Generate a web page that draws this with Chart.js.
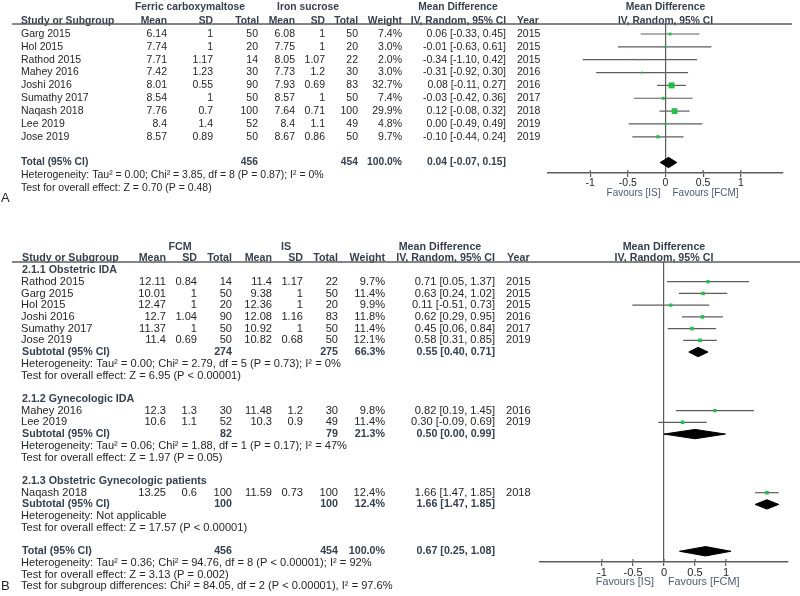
<!DOCTYPE html>
<html>
<head>
<meta charset="utf-8">
<script src="https://cdn.jsdelivr.net/npm/chart.js@4.4.1/dist/chart.umd.min.js"></script>
<style>
  body { margin: 0; background: #fff; }
  #wrap { position: relative; width: 800px; height: 596px; }
  canvas { position: absolute; left: 0; }
</style>
</head>
<body>
<div id="wrap">
  <canvas id="chartA" width="800" height="205" style="top:0"></canvas>
  <canvas id="chartB" width="800" height="391" style="top:205px"></canvas>
</div>
<script>
// ====================
// PANEL A DATA
// ====================
const aStudy   = ["Garg 2015", "Hol 2015", "Rathod 2015", "Mahey 2016", "Joshi 2016", "Sumathy 2017", "Naqash 2018", "Lee 2019", "Jose 2019"];
const aFcmMean = [6.14, 7.74, 7.71, 7.42, 8.01, 8.54, 7.76, 8.4, 8.57];
const aFcmSD   = [1, 1, 1.17, 1.23, 0.55, 1, 0.7, 1.4, 0.89];
const aFcmN    = [50, 20, 14, 30, 90, 50, 100, 52, 50];
const aIsMean  = [6.08, 7.75, 8.05, 7.73, 7.93, 8.57, 7.64, 8.4, 8.67];
const aIsSD    = [1, 1, 1.07, 1.2, 0.69, 1, 0.71, 1.1, 0.86];
const aIsN     = [50, 20, 22, 30, 83, 50, 100, 49, 50];
const aWeight  = [7.4, 3.0, 2.0, 3.0, 32.7, 7.4, 29.9, 4.8, 9.7];
const aMD      = [0.06, -0.01, -0.34, -0.31, 0.08, -0.03, 0.12, 0.00, -0.10];
const aLo      = [-0.33, -0.63, -1.10, -0.92, -0.11, -0.42, -0.08, -0.49, -0.44];
const aHi      = [0.45, 0.61, 0.42, 0.30, 0.27, 0.36, 0.32, 0.49, 0.24];
const aYear    = [2015, 2015, 2015, 2016, 2016, 2017, 2018, 2019, 2019];
const aTotalN  = [456, 454];
const aTotalCI = [0.04, -0.07, 0.15];
const aNotes   = ["Heterogeneity: Tau² = 0.00; Chi² = 3.85, df = 8 (P = 0.87); I² = 0%",
                  "Test for overall effect: Z = 0.70 (P = 0.48)"];

// ====================
// PANEL B DATA
// ====================
const bStudy   = ["Rathod 2015", "Garg 2015", "Hol 2015", "Joshi 2016", "Sumathy 2017", "Jose 2019", "Mahey 2016", "Lee 2019", "Naqash 2018"];
const bRow     = [1, 2, 3, 4, 5, 6, 12, 13, 19];
const bFcmMean = [12.11, 10.01, 12.47, 12.7, 11.37, 11.4, 12.3, 10.6, 13.25];
const bFcmSD   = [0.84, 1, 1, 1.04, 1, 0.69, 1.3, 1.1, 0.6];
const bFcmN    = [14, 50, 20, 90, 50, 50, 30, 52, 100];
const bIsMean  = [11.4, 9.38, 12.36, 12.08, 10.92, 10.82, 11.48, 10.3, 11.59];
const bIsSD    = [1.17, 1, 1, 1.16, 1, 0.68, 1.2, 0.9, 0.73];
const bIsN     = [22, 50, 20, 83, 50, 50, 30, 49, 100];
const bWeight  = [9.7, 11.4, 9.9, 11.8, 11.4, 12.1, 9.8, 11.4, 12.4];
const bMD      = [0.71, 0.63, 0.11, 0.62, 0.45, 0.58, 0.82, 0.30, 1.66];
const bLo      = [0.05, 0.24, -0.51, 0.29, 0.06, 0.31, 0.19, -0.09, 1.47];
const bHi      = [1.37, 1.02, 0.73, 0.95, 0.84, 0.85, 1.45, 0.69, 1.85];
const bYear    = [2015, 2015, 2015, 2016, 2017, 2019, 2016, 2019, 2018];

const bGroup      = ["2.1.1 Obstetric IDA", "2.1.2 Gynecologic IDA", "2.1.3 Obstetric Gynecologic patients"];
const bGroupRow   = [0, 11, 18];
const bSubRow     = [7, 14, 20];
const bSubFcmN    = [274, 82, 100];
const bSubIsN     = [275, 79, 100];
const bSubWeight  = [66.3, 21.3, 12.4];
const bSubMD      = [0.55, 0.50, 1.66];
const bSubLo      = [0.40, 0.00, 1.47];
const bSubHi      = [0.71, 0.99, 1.85];
const bSubHetero  = ["Heterogeneity: Tau² = 0.00; Chi² = 2.79, df = 5 (P = 0.73); I² = 0%",
                     "Heterogeneity: Tau² = 0.06; Chi² = 1.88, df = 1 (P = 0.17); I² = 47%",
                     "Heterogeneity: Not applicable"];
const bSubEffect  = ["Test for overall effect: Z = 6.95 (P < 0.00001)",
                     "Test for overall effect: Z = 1.97 (P = 0.05)",
                     "Test for overall effect: Z = 17.57 (P < 0.00001)"];
const bTotalRow = 24;
const bTotalN   = [456, 454];
const bTotalCI  = [0.67, 0.25, 1.08];
const bNotes    = ["Heterogeneity: Tau² = 0.36; Chi² = 94.76, df = 8 (P < 0.00001); I² = 92%",
                   "Test for overall effect: Z = 3.13 (P = 0.002)",
                   "Test for subgroup differences: Chi² = 84.05, df = 2 (P < 0.00001), I² = 97.6%"];

// axis ticks (both panels)
const tickValues = [-1, -0.5, 0, 0.5, 1];
const tickLabels = ["-1", "-0.5", "0", "0.5", "1"];

// ====================
// STYLE
// ====================
const FONT = '"Liberation Sans", Arial, sans-serif';
const TXT = "#262626";
const BOLD_TXT = "#353f4e";
const BLUE_TXT = "#4f5b72";
const LINE = "#5c5c5c";
const SQUARE = "#22bf48";
const DIAMOND_H = 0.4;

const fmtCI = (m, lo, hi) => `${m.toFixed(2)} [${lo.toFixed(2)}, ${hi.toFixed(2)}]`;
const pct = w => w.toFixed(1) + "%";

function ciDatasets(rows, lo, hi) {
  return rows.map((r, i) => ({
    type: "line",
    data: [{ x: lo[i], y: r }, { x: hi[i], y: r }],
    borderColor: LINE, borderWidth: 1.2, pointRadius: 0, fill: false, order: 2
  }));
}

function squareDataset(rows, md, weight) {
  return {
    type: "line", showLine: false,
    data: rows.map((r, i) => ({ x: md[i], y: r })),
    pointStyle: "rect",
    pointRadius: weight.map(w => 0.74 * Math.sqrt(w)),
    backgroundColor: SQUARE, borderColor: SQUARE, borderWidth: 0, order: 0
  };
}

function diamondDataset(row, md, lo, hi) {
  return {
    type: "line",
    data: [{ x: lo, y: row }, { x: md, y: row - DIAMOND_H }, { x: hi, y: row },
           { x: md, y: row + DIAMOND_H }, { x: lo, y: row }],
    fill: "shape", backgroundColor: "#000", borderColor: "#000", borderWidth: 1,
    pointRadius: 0, tension: 0, order: 1
  };
}

// table text + header rule, drawn against the chart's y scale
function tablePlugin(cells, opt) {
  return {
    id: "table",
    afterDraw(chart) {
      const { ctx, chartArea } = chart;
      const ys = chart.scales.y, xs = chart.scales.x;
      const zero = xs.getPixelForValue(0);
      ctx.save();
      ctx.textBaseline = "middle";
      cells.forEach(c => {
        const size = c.size || (c.bold ? opt.boldSize : opt.size);
        ctx.font = `${c.bold ? "bold " : ""}${size}px ${FONT}`;
        ctx.fillStyle = c.color || (c.bold ? BOLD_TXT : TXT);
        ctx.textAlign = c.align || "left";
        const px = c.dz !== undefined ? zero + c.dz : c.x;
        const py = c.py !== undefined ? c.py : ys.getPixelForValue(c.row);
        ctx.fillText(c.text, px, py);
      });
      // header rule
      ctx.strokeStyle = LINE;
      ctx.lineWidth = 1.5;
      ctx.beginPath();
      ctx.moveTo(opt.ruleX[0], chartArea.top);
      ctx.lineTo(opt.ruleX[1], chartArea.top);
      ctx.stroke();
      // tick marks reach a little above the axis
      ctx.lineWidth = 1.2;
      xs.ticks.forEach(t => {
        const p = xs.getPixelForValue(t.value);
        ctx.beginPath();
        ctx.moveTo(p, chartArea.bottom - 3);
        ctx.lineTo(p, chartArea.bottom);
        ctx.stroke();
      });
      ctx.restore();
    }
  };
}

function makeForest(id, cfg) {
  return new Chart(document.getElementById(id), {
    type: "line",
    data: { datasets: cfg.datasets },
    options: {
      responsive: false, animation: false, events: [],
      layout: { padding: cfg.padding },
      plugins: { legend: { display: false }, tooltip: { enabled: false } },
      scales: {
        x: {
          type: "linear", min: cfg.xMin, max: cfg.xMax,
          afterBuildTicks: s => { s.ticks = tickValues.map(v => ({ value: v })); },
          afterFit: s => { s.height = 32; },
          ticks: {
            autoSkip: false, maxRotation: 0, padding: 0, color: TXT,
            font: { family: FONT, size: cfg.size },
            callback: (v, i) => tickLabels[i]
          },
          grid: {
            drawOnChartArea: true,
            color: c => (c.tick && c.tick.value === 0) ? LINE : "rgba(0,0,0,0)",
            tickColor: LINE, tickLength: 4, lineWidth: 1.2
          },
          border: { display: true, color: LINE, width: 1.5 }
        },
        y: { type: "linear", display: false, reverse: true, min: cfg.yMin, max: cfg.yMax }
      }
    },
    plugins: [tablePlugin(cfg.cells, { size: cfg.size, boldSize: cfg.boldSize, ruleX: cfg.ruleX })]
  });
}

// ====================
// BUILD PANEL A
// ====================
const aRows = aStudy.map((s, i) => i);
const aCells = [
  { row: -2.05, x: 190, align: "center", text: "Ferric carboxymaltose", bold: true },
  { row: -2.05, x: 308, align: "center", text: "Iron sucrose", bold: true },
  { row: -2.05, x: 458, align: "center", text: "Mean Difference", bold: true },
  { row: -2.05, dz: 0, align: "center", text: "Mean Difference", bold: true },
  { row: -1, x: 21, text: "Study or Subgroup", bold: true },
  { row: -1, x: 167, align: "right", text: "Mean", bold: true },
  { row: -1, x: 213, align: "right", text: "SD", bold: true },
  { row: -1, x: 259, align: "right", text: "Total", bold: true },
  { row: -1, x: 295, align: "right", text: "Mean", bold: true },
  { row: -1, x: 325, align: "right", text: "SD", bold: true },
  { row: -1, x: 358, align: "right", text: "Total", bold: true },
  { row: -1, x: 402, align: "right", text: "Weight", bold: true },
  { row: -1, x: 506, align: "right", text: "IV, Random, 95% CI", bold: true },
  { row: -1, x: 517, text: "Year", bold: true },
  { row: -1, dz: 0, align: "center", text: "IV, Random, 95% CI", bold: true }
];
aStudy.forEach((s, i) => {
  aCells.push(
    { row: i, x: 21, text: s },
    { row: i, x: 167, align: "right", text: String(aFcmMean[i]) },
    { row: i, x: 213, align: "right", text: String(aFcmSD[i]) },
    { row: i, x: 258, align: "right", text: String(aFcmN[i]) },
    { row: i, x: 295, align: "right", text: String(aIsMean[i]) },
    { row: i, x: 325, align: "right", text: String(aIsSD[i]) },
    { row: i, x: 358, align: "right", text: String(aIsN[i]) },
    { row: i, x: 402, align: "right", text: pct(aWeight[i]) },
    { row: i, x: 506, align: "right", text: fmtCI(aMD[i], aLo[i], aHi[i]) },
    { row: i, x: 517, text: String(aYear[i]) }
  );
});
aCells.push(
  { row: 10, x: 21, text: "Total (95% CI)", bold: true },
  { row: 10, x: 258, align: "right", text: String(aTotalN[0]), bold: true },
  { row: 10, x: 358, align: "right", text: String(aTotalN[1]), bold: true },
  { row: 10, x: 402, align: "right", text: "100.0%", bold: true },
  { row: 10, x: 506, align: "right", text: fmtCI(aTotalCI[0], aTotalCI[1], aTotalCI[2]), bold: true },
  { row: 11, x: 21, text: aNotes[0] },
  { row: 12, x: 21, text: aNotes[1] },
  { py: 193, dz: -5, align: "right", text: "Favours [IS]", color: BLUE_TXT, size: 10 },
  { py: 193, dz: 7, text: "Favours [FCM]", color: BLUE_TXT, size: 10 },
  { py: 198, x: 1, text: "A", size: 13, color: TXT }
);

makeForest("chartA", {
  size: 10.5, boldSize: 10.3,
  padding: { left: 548, right: 17, top: 24, bottom: 0 },
  xMin: -1.56, xMax: 1.56,
  yMin: -0.778, yMax: 10.817,
  ruleX: [12, 792],
  cells: aCells,
  datasets: [
    squareDataset(aRows, aMD, aWeight),
    diamondDataset(10, aTotalCI[0], aTotalCI[1], aTotalCI[2]),
    ...ciDatasets(aRows, aLo, aHi)
  ]
});

// ====================
// BUILD PANEL B
// ====================
const bCells = [
  { row: -2, x: 180, align: "center", text: "FCM", bold: true },
  { row: -2, x: 286, align: "center", text: "IS", bold: true },
  { row: -2, x: 440, align: "center", text: "Mean Difference", bold: true },
  { row: -2, dz: 0, align: "center", text: "Mean Difference", bold: true },
  { row: -1, x: 22, text: "Study or Subgroup", bold: true },
  { row: -1, x: 166, align: "right", text: "Mean", bold: true },
  { row: -1, x: 197, align: "right", text: "SD", bold: true },
  { row: -1, x: 232, align: "right", text: "Total", bold: true },
  { row: -1, x: 272, align: "right", text: "Mean", bold: true },
  { row: -1, x: 303, align: "right", text: "SD", bold: true },
  { row: -1, x: 338, align: "right", text: "Total", bold: true },
  { row: -1, x: 385, align: "right", text: "Weight", bold: true },
  { row: -1, x: 495, align: "right", text: "IV, Random, 95% CI", bold: true },
  { row: -1, x: 507, text: "Year", bold: true },
  { row: -1, dz: 0, align: "center", text: "IV, Random, 95% CI", bold: true }
];
bStudy.forEach((s, i) => {
  const r = bRow[i];
  bCells.push(
    { row: r, x: 21, text: s },
    { row: r, x: 166, align: "right", text: String(bFcmMean[i]) },
    { row: r, x: 197, align: "right", text: String(bFcmSD[i]) },
    { row: r, x: 232, align: "right", text: String(bFcmN[i]) },
    { row: r, x: 272, align: "right", text: String(bIsMean[i]) },
    { row: r, x: 303, align: "right", text: String(bIsSD[i]) },
    { row: r, x: 338, align: "right", text: String(bIsN[i]) },
    { row: r, x: 385, align: "right", text: pct(bWeight[i]) },
    { row: r, x: 495, align: "right", text: fmtCI(bMD[i], bLo[i], bHi[i]) },
    { row: r, x: 506, text: String(bYear[i]) }
  );
});
bGroup.forEach((g, k) => {
  const r = bSubRow[k];
  bCells.push(
    { row: bGroupRow[k], x: 22, text: g, bold: true },
    { row: r, x: 22, text: "Subtotal (95% CI)", bold: true },
    { row: r, x: 232, align: "right", text: String(bSubFcmN[k]), bold: true },
    { row: r, x: 338, align: "right", text: String(bSubIsN[k]), bold: true },
    { row: r, x: 385, align: "right", text: pct(bSubWeight[k]), bold: true },
    { row: r, x: 495, align: "right", text: fmtCI(bSubMD[k], bSubLo[k], bSubHi[k]), bold: true },
    { row: r + 1, x: 21, text: bSubHetero[k] },
    { row: r + 2, x: 21, text: bSubEffect[k] }
  );
});
bCells.push(
  { row: bTotalRow, x: 22, text: "Total (95% CI)", bold: true },
  { row: bTotalRow, x: 232, align: "right", text: String(bTotalN[0]), bold: true },
  { row: bTotalRow, x: 338, align: "right", text: String(bTotalN[1]), bold: true },
  { row: bTotalRow, x: 385, align: "right", text: "100.0%", bold: true },
  { row: bTotalRow, x: 495, align: "right", text: fmtCI(bTotalCI[0], bTotalCI[1], bTotalCI[2]), bold: true },
  { row: 25, x: 21, text: bNotes[0] },
  { row: 26, x: 21, text: bNotes[1] },
  { row: 27, x: 21, text: bNotes[2] },
  { py: 377, dz: -10, align: "right", text: "Favours [IS]", color: BLUE_TXT, size: 10.8 },
  { py: 377, dz: 4, text: "Favours [FCM]", color: BLUE_TXT, size: 10.8 },
  { py: 381, x: 1, text: "B", size: 13, color: TXT }
);

makeForest("chartB", {
  size: 11.1, boldSize: 10.7,
  padding: { left: 540, right: 12, top: 57, bottom: 2 },
  xMin: -2, xMax: 2,
  yMin: -0.683, yMax: 24.915,
  ruleX: [12, 800],
  cells: bCells,
  datasets: [
    squareDataset(bRow, bMD, bWeight),
    ...bSubRow.map((r, k) => diamondDataset(r, bSubMD[k], bSubLo[k], bSubHi[k])),
    diamondDataset(bTotalRow, bTotalCI[0], bTotalCI[1], bTotalCI[2]),
    ...ciDatasets(bRow, bLo, bHi)
  ]
});
</script>
</body>
</html>
